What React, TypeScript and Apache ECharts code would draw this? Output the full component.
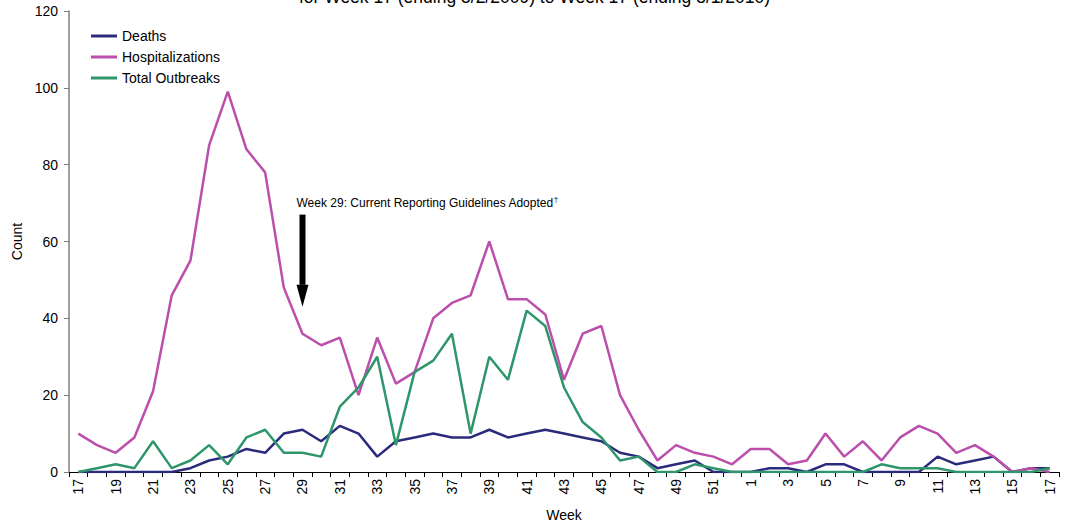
import React, { useEffect, useRef } from "react";
import * as echarts from "echarts";

const weeks: string[] = [
  "17","18","19","20","21","22","23","24","25","26","27","28","29","30","31","32","33","34","35","36",
  "37","38","39","40","41","42","43","44","45","46","47","48","49","50","51","52",
  "1","2","3","4","5","6","7","8","9","10","11","12","13","14","15","16","17",
];
const deaths: number[] = [
  0,0,0,0,0,0,1,3,4,6,5,10,11,8,12,10,4,8,9,10,
  9,9,11,9,10,11,10,9,8,5,4,1,2,3,0,0,0,1,1,0,
  2,2,0,0,0,0,4,2,3,4,0,1,1,
];
const hospitalizations: number[] = [
  10,7,5,9,21,46,55,85,99,84,78,48,36,33,35,20,35,23,26,40,
  44,46,60,45,45,41,24,36,38,20,11,3,7,5,4,2,6,6,2,3,
  10,4,8,3,9,12,10,5,7,4,0,1,0,
];
const totalOutbreaks: number[] = [
  0,1,2,1,8,1,3,7,2,9,11,5,5,4,17,22,30,7,26,29,
  36,10,30,24,42,38,22,13,9,3,4,0,0,2,1,0,0,0,0,0,
  0,0,0,2,1,1,1,0,0,0,0,0,1,
];
const yTicks = { min: 0, max: 120, interval: 20 };
const titleText = "for Week 17 (ending 5/2/2009) to Week 17 (ending 5/1/2010)";
const annotationText = "Week 29: Current Reporting Guidelines Adopted";
const annotationIndex = 12;
const arrowTopValue = 67;
const arrowTipValue = 43;

const FONT = "'Liberation Sans', Arial, sans-serif";

export default function App() {
  const ref = useRef<HTMLDivElement>(null);
  useEffect(() => {
    document.body.style.margin = "0";
    const chart = echarts.init(ref.current!, undefined, { renderer: "svg" });
    const mk = (name: string, data: number[], color: string) => ({
      name,
      type: "line",
      data,
      symbol: "none",
      lineStyle: { color, width: 2.5 },
      itemStyle: { color },
    });
    chart.setOption({
      animation: false,
      textStyle: { fontFamily: FONT },
      grid: { left: 69, right: 10, top: 11, bottom: 50, outerBoundsMode: "none", containLabel: false },
      legend: {
        orient: "vertical",
        left: 91,
        top: 29,
        padding: 0,
        itemWidth: 26,
        itemHeight: 3,
        itemGap: 7,
        icon: "rect",
        textStyle: { fontSize: 14, color: "#000", fontFamily: FONT },
        data: ["Deaths", "Hospitalizations", "Total Outbreaks"],
      },
      xAxis: {
        type: "category",
        data: weeks,
        boundaryGap: true,
        name: "Week",
        nameLocation: "middle",
        nameGap: 36,
        nameTextStyle: { fontSize: 14, color: "#000" },
        axisLine: { lineStyle: { color: "#000", width: 1 } },
        axisTick: { show: true, interval: 0, length: 5, lineStyle: { color: "#000" } },
        axisLabel: { interval: 1, rotate: 90, fontSize: 14, color: "#000", margin: 7 },
      },
      yAxis: {
        type: "value",
        min: yTicks.min,
        max: yTicks.max,
        interval: yTicks.interval,
        name: "Count",
        nameLocation: "middle",
        nameGap: 44,
        nameTextStyle: { fontSize: 14, color: "#000" },
        axisLine: { show: true, lineStyle: { color: "#808080", width: 1.5 } },
        axisTick: { show: true, length: 5, lineStyle: { color: "#808080" } },
        axisLabel: { fontSize: 14, color: "#000", margin: 11 },
        splitLine: { show: false },
      },
      series: [
        mk("Deaths", deaths, "#2A2B7C"),
        mk("Hospitalizations", hospitalizations, "#BB4FAB"),
        mk("Total Outbreaks", totalOutbreaks, "#2E966A"),
      ],
    });
    const top = chart.convertToPixel({ gridIndex: 0 }, [annotationIndex, arrowTopValue]) as number[];
    const tip = chart.convertToPixel({ gridIndex: 0 }, [annotationIndex, arrowTipValue]) as number[];
    const x = top[0];
    const headH = 22;
    chart.setOption({
      graphic: [
        {
          type: "text",
          left: "center",
          top: -12,
          style: { text: titleText, font: `17.5px ${FONT}`, fill: "#000" },
        },
        {
          type: "text",
          x: x - 6,
          y: top[1] - 5,
          style: {
            text: `{a|${annotationText}}{s|†}`,
            verticalAlign: "bottom",
            rich: {
              a: { fontSize: 12, fontFamily: FONT, color: "#000" },
              s: { fontSize: 8, fontFamily: FONT, color: "#000", verticalAlign: "top", padding: [0, 0, 6, 0] },
            },
          },
        },
        {
          type: "rect",
          shape: { x: x - 3, y: top[1], width: 6, height: tip[1] - top[1] - headH },
          style: { fill: "#000" },
        },
        {
          type: "polygon",
          shape: {
            points: [
              [x - 6, tip[1] - headH],
              [x + 6, tip[1] - headH],
              [x, tip[1]],
            ],
          },
          style: { fill: "#000" },
        },
      ],
    });
    return () => chart.dispose();
  }, []);
  return <div ref={ref} style={{ width: 1069, height: 522 }} />;
}
